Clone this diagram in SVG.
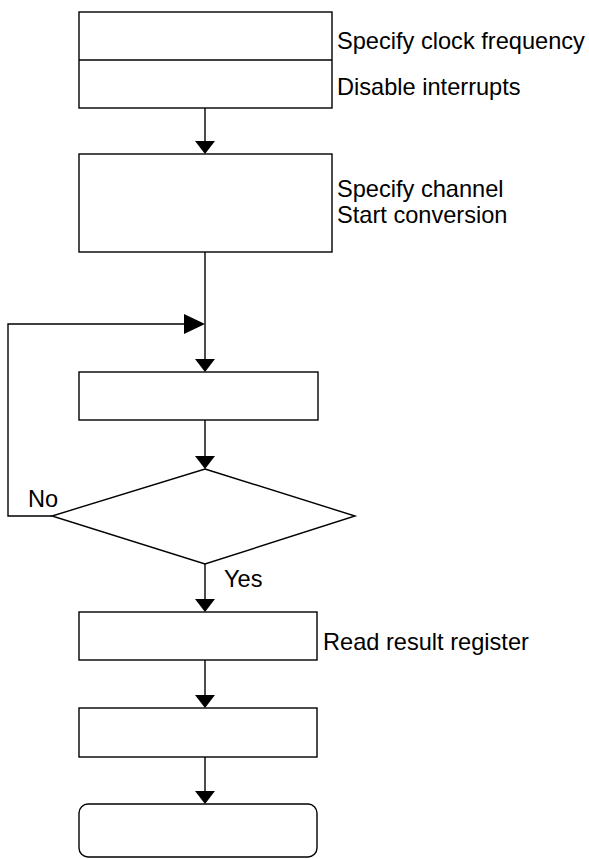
<svg xmlns="http://www.w3.org/2000/svg" width="589" height="859" viewBox="0 0 589 859">
<style>
.box{fill:#fff;stroke:#000;stroke-width:1.4}
.ln{fill:none;stroke:#000;stroke-width:1.4}
.ah{fill:#000;stroke:none}
text{font-family:"Liberation Sans",Arial,sans-serif;font-size:23.6px;fill:#000}
</style>
<defs>
<path id="down" d="M-10,-13 L10,-13 L0,0 Z"/>
</defs>
<g id="connectors">
<line class="ln" x1="205" y1="108" x2="205" y2="142"/>
<use href="#down" class="ah" x="205" y="154"/>
<line class="ln" x1="205" y1="252" x2="205" y2="360"/>
<use href="#down" class="ah" x="205" y="372"/>
<polyline class="ln" points="52,516 8,516 8,324 186,324"/>
<path class="ah" d="M184,314 L205,324 L184,334 Z"/>
<line class="ln" x1="205" y1="420" x2="205" y2="457"/>
<use href="#down" class="ah" x="205" y="469"/>
<line class="ln" x1="205" y1="564" x2="205" y2="600"/>
<use href="#down" class="ah" x="205" y="612"/>
<line class="ln" x1="205" y1="660" x2="205" y2="696"/>
<use href="#down" class="ah" x="205" y="708"/>
<line class="ln" x1="205" y1="757" x2="205" y2="792"/>
<use href="#down" class="ah" x="205" y="804"/>
<text x="28" y="507">No</text>
<text x="224" y="587">Yes</text>
</g>
<g id="init">
<rect class="box" x="79" y="12" width="253" height="96"/>
<line class="ln" x1="79" y1="60" x2="332" y2="60"/>
<text x="337" y="49">Specify clock frequency</text>
<text x="337" y="95">Disable interrupts</text>
</g>
<g id="start">
<rect class="box" x="79" y="154" width="253" height="98"/>
<text x="337" y="197">Specify channel</text>
<text x="337" y="223">Start conversion</text>
</g>
<g id="wait">
<rect class="box" x="79" y="372" width="239" height="48"/>
</g>
<g id="decision">
<polygon class="box" points="205,469 355,516 205,564 52,516"/>
</g>
<g id="read">
<rect class="box" x="79" y="612" width="238" height="48"/>
<text x="323" y="650">Read result register</text>
</g>
<g id="process">
<rect class="box" x="79" y="708" width="238" height="49"/>
</g>
<g id="end">
<rect class="box" x="79" y="804" width="238" height="53" rx="9"/>
</g>
</svg>
